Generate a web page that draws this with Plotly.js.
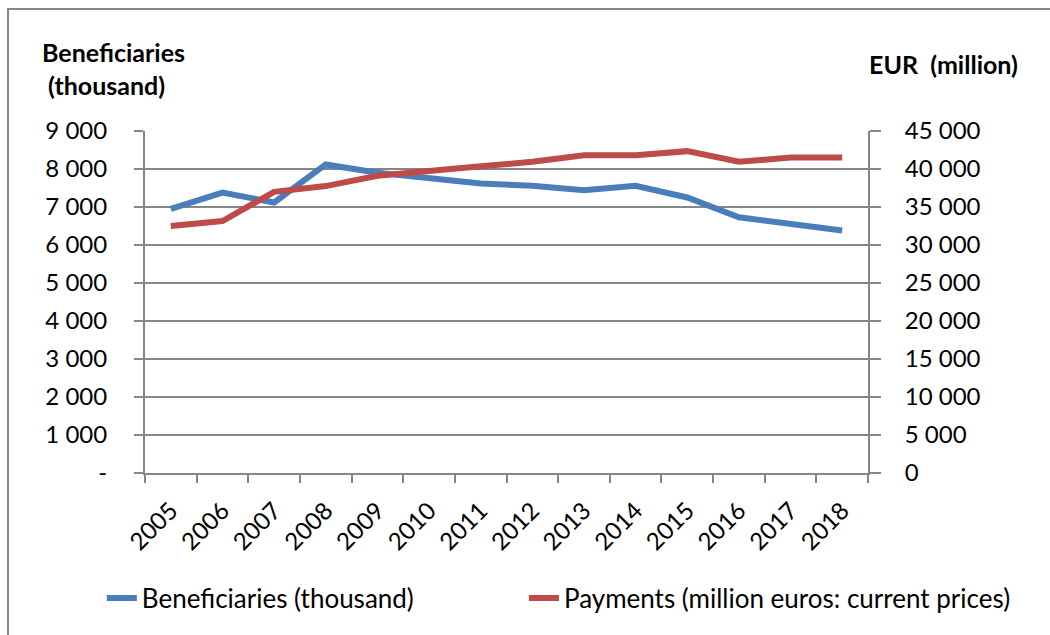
<!DOCTYPE html>
<html>
<head>
<meta charset="utf-8">
<script src="https://cdn.plot.ly/plotly-3.0.1.min.js"></script>
<style>
html,body{margin:0;padding:0;background:#fff;}
#wrap{position:relative;width:1050px;height:635px;overflow:hidden;}
#chart{width:1050px;height:635px;}
#frame{position:absolute;left:7px;top:8px;width:1100px;height:700px;border:2.5px solid #868686;pointer-events:none;}
</style>
</head>
<body>
<div id="wrap"><div id="chart"></div><div id="frame"></div></div>
<script>
const years = ["2005","2006","2007","2008","2009","2010","2011","2012","2013","2014","2015","2016","2017","2018"];
const beneficiaries = [6950, 7380, 7120, 8120, 7900, 7760, 7620, 7560, 7440, 7560, 7250, 6730, 6560, 6380];
const payments = [32500, 33150, 37000, 37750, 39100, 39650, 40350, 40950, 41800, 41800, 42350, 40950, 41500, 41500];
const leftTicks = [0,1000,2000,3000,4000,5000,6000,7000,8000,9000];
const leftLabels = ["-","1 000","2 000","3 000","4 000","5 000","6 000","7 000","8 000","9 000"];
const rightTicks = [0,5000,10000,15000,20000,25000,30000,35000,40000,45000];
const rightLabels = ["0","5 000","10 000","15 000","20 000","25 000","30 000","35 000","40 000","45 000"];

const FONT = "Lato, 'Open Sans', sans-serif";
const traces = [
  {x: years, y: beneficiaries, type: "scatter", mode: "lines", name: "Beneficiaries (thousand)",
   line: {color: "#4a7ebb", width: 6}, yaxis: "y", legend: "legend"},
  {x: years, y: payments, type: "scatter", mode: "lines", name: "Payments (million euros: current prices)",
   line: {color: "#be4b48", width: 6}, yaxis: "y2", legend: "legend2"}
];
const legendFont = {family: FONT, size: 26};
const layout = {
  width: 1050, height: 635,
  margin: {l: 145, r: 182, t: 131, b: 162},
  paper_bgcolor: "#fff", plot_bgcolor: "#fff",
  font: {family: FONT, size: 24, color: "#000"},
  showlegend: true,
  legend: {orientation: "h", x: 0.097, xref: "container", xanchor: "left", y: 0.058, yref: "container", yanchor: "middle",
           font: legendFont},
  legend2: {orientation: "h", x: 0.499, xref: "container", xanchor: "left", y: 0.058, yref: "container", yanchor: "middle",
           font: legendFont},
  xaxis: {type: "category", range: [-0.5, 13.5], tickson: "boundaries", ticks: "outside", ticklen: 8, tickcolor: "#868686", tickwidth: 2,
          showline: true, linecolor: "#868686", linewidth: 2, showgrid: false, tickangle: -45,
          tickfont: {family: FONT, size: 24}, zeroline: false, fixedrange: true, ticklabelstandoff: 12},
  yaxis: {range: [0, 9000], tickvals: leftTicks, ticktext: leftLabels, ticks: "outside", ticklen: 9,
          tickcolor: "#868686", tickwidth: 2, showline: true, linecolor: "#868686", linewidth: 2,
          showgrid: true, gridcolor: "#868686", gridwidth: 2, zeroline: false, ticklabelstandoff: 22,
          tickfont: {family: FONT, size: 24}},
  yaxis2: {range: [0, 45000], tickvals: rightTicks, ticktext: rightLabels, overlaying: "y", side: "right",
           ticks: "outside", ticklen: 11, tickcolor: "#868686", tickwidth: 2, showline: true, linecolor: "#868686",
           linewidth: 2, showgrid: false, zeroline: false, ticklabelstandoff: 19,
           tickfont: {family: FONT, size: 24}},
  annotations: [
    {text: "<b>Beneficiaries</b><br><b> (thousand)</b>", xref: "paper", yref: "paper", x: -0.145, y: 1.28,
     xanchor: "left", yanchor: "top", align: "left", showarrow: false, font: {family: FONT, size: 25}},
    {text: "<b>EUR  (million)</b>", xref: "paper", yref: "paper", x: 1.21, y: 1.196,
     xanchor: "right", yanchor: "middle", align: "right", showarrow: false, font: {family: FONT, size: 25}}
  ]
};
Plotly.newPlot("chart", traces, layout, {displayModeBar: false, staticPlot: true});
</script>
</body>
</html>
